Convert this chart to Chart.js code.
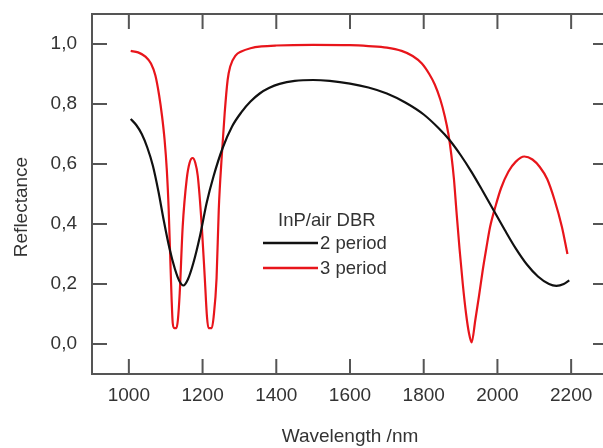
<!DOCTYPE html>
<html>
<head>
<meta charset="utf-8">
<script src="https://cdn.jsdelivr.net/npm/chart.js@4.4.1/dist/chart.umd.min.js"></script>
<style>
  html, body { margin: 0; padding: 0; background: #fff; overflow: hidden; }
  #wrap { position: relative; width: 608px; height: 448px; }
</style>
</head>
<body>
<div id="wrap"><canvas id="chart"></canvas></div>
<script>
// wavelength (nm) / reflectance pairs
const period2Wl = [1005, 1020, 1035, 1050, 1065, 1080, 1095, 1110, 1125, 1137, 1148, 1160, 1175, 1193, 1211, 1230, 1255, 1280, 1305, 1330, 1355, 1380, 1409, 1450, 1500, 1545, 1600, 1650, 1700, 1750, 1800, 1840, 1870, 1900, 1930, 1960, 1990, 2020, 2050, 2080, 2110, 2140, 2160, 2180, 2195];
const period2R  = [0.75, 0.73, 0.70, 0.655, 0.595, 0.51, 0.41, 0.32, 0.25, 0.21, 0.195, 0.215, 0.27, 0.36, 0.47, 0.56, 0.655, 0.725, 0.772, 0.808, 0.835, 0.853, 0.867, 0.877, 0.88, 0.877, 0.868, 0.855, 0.835, 0.805, 0.765, 0.72, 0.68, 0.63, 0.573, 0.51, 0.445, 0.38, 0.318, 0.265, 0.225, 0.2, 0.194, 0.2, 0.212];

const period3Wl = [1005, 1025, 1045, 1060, 1072, 1082, 1090, 1097, 1103, 1108, 1112, 1116, 1119, 1123, 1129, 1133, 1138, 1146, 1157, 1165, 1173, 1180, 1187, 1198, 1206, 1212, 1216, 1225, 1230, 1238, 1244, 1252, 1260, 1268, 1275, 1290, 1305, 1330, 1360, 1400, 1500, 1600, 1650, 1700, 1740, 1770, 1795, 1815, 1830, 1845, 1857, 1867, 1875, 1882, 1889, 1897, 1906, 1915, 1923, 1930, 1940, 1950, 1960, 1970, 1980, 1995, 2010, 2030, 2050, 2073, 2095, 2115, 2135, 2155, 2175, 2190];
const period3R  = [0.977, 0.972, 0.958, 0.935, 0.895, 0.83, 0.76, 0.68, 0.58, 0.45, 0.3, 0.15, 0.07, 0.053, 0.053, 0.08, 0.17, 0.39, 0.55, 0.605, 0.62, 0.605, 0.56, 0.39, 0.22, 0.09, 0.053, 0.053, 0.09, 0.22, 0.45, 0.625, 0.77, 0.88, 0.925, 0.962, 0.975, 0.986, 0.992, 0.995, 0.997, 0.996, 0.993, 0.988, 0.977, 0.96, 0.935, 0.9, 0.865, 0.815, 0.76, 0.7, 0.63, 0.55, 0.44, 0.32, 0.2, 0.1, 0.035, 0.005, 0.08, 0.16, 0.245, 0.32, 0.39, 0.46, 0.52, 0.575, 0.608, 0.625, 0.615, 0.59, 0.55, 0.48, 0.39, 0.3];

const seriesLabels = ['2 period', '3 period'];
const legendTitle = 'InP/air DBR';
const xTicks = [1000, 1200, 1400, 1600, 1800, 2000, 2200];
const yTicks = [0, 0.2, 0.4, 0.6, 0.8, 1.0];

const FONT = "'Liberation Sans', Arial, sans-serif";
const TEXT = '#333';
const FRAME = '#555';

function pairs(xs, ys) {
  return xs.map((x, i) => ({ x: x, y: ys[i] }));
}

// frame, inward ticks, legend and y title
const decor = {
  id: 'decor',
  beforeDatasetsDraw(chart) {
    const { ctx, chartArea: a, scales } = chart;
    ctx.save();
    ctx.strokeStyle = FRAME;
    ctx.lineWidth = 2;
    ctx.strokeRect(a.left, a.top, a.right - a.left, a.bottom - a.top);
    ctx.beginPath();
    scales.x.ticks.forEach(t => {
      const px = scales.x.getPixelForValue(t.value);
      ctx.moveTo(px, a.top); ctx.lineTo(px, a.top + 15);
      ctx.moveTo(px, a.bottom); ctx.lineTo(px, a.bottom - 15);
    });
    scales.y.ticks.forEach(t => {
      const py = scales.y.getPixelForValue(t.value);
      ctx.moveTo(a.left, py); ctx.lineTo(a.left + 15, py);
      ctx.moveTo(a.right, py); ctx.lineTo(a.right - 15, py);
    });
    ctx.stroke();
    ctx.restore();
  },
  afterDraw(chart) {
    const { ctx } = chart;
    ctx.save();
    ctx.fillStyle = TEXT;
    ctx.font = '18.5px ' + FONT;
    ctx.textBaseline = 'middle';
    ctx.textAlign = 'left';
    ctx.fillText(legendTitle, 278, 221);
    chart.data.datasets.forEach((ds, i) => {
      const y = 243 + i * 25;
      ctx.strokeStyle = ds.borderColor;
      ctx.lineWidth = 2.5;
      ctx.beginPath();
      ctx.moveTo(263, y); ctx.lineTo(318, y);
      ctx.stroke();
      ctx.fillText(ds.label, 320, y + 1);
    });
    // rotated y title
    ctx.font = '19px ' + FONT;
    ctx.translate(22, 207);
    ctx.rotate(-Math.PI / 2);
    ctx.textAlign = 'center';
    ctx.fillText('Reflectance', 0, 0);
    ctx.restore();
  }
};

new Chart(document.getElementById('chart'), {
  type: 'line',
  data: {
    datasets: [
      {
        label: seriesLabels[0],
        data: pairs(period2Wl, period2R),
        borderColor: '#111111',
        borderWidth: 2.2,
        pointRadius: 0,
        cubicInterpolationMode: 'monotone',
        fill: false
      },
      {
        label: seriesLabels[1],
        data: pairs(period3Wl, period3R),
        borderColor: '#e8151b',
        borderWidth: 2.2,
        pointRadius: 0,
        cubicInterpolationMode: 'monotone',
        fill: false
      }
    ]
  },
  plugins: [decor],
  options: {
    responsive: true,
    maintainAspectRatio: false,
    animation: false,
    layout: { padding: { top: 14, left: 0, right: 0, bottom: 0 } },
    plugins: {
      legend: { display: false },
      tooltip: { enabled: false }
    },
    scales: {
      x: {
        type: 'linear',
        min: 900,
        max: 2300,
        afterBuildTicks: s => { s.ticks = xTicks.map(v => ({ value: v })); },
        afterFit: s => { s.height = 74; s.paddingLeft = 0; s.paddingRight = 0; },
        grid: { display: false, drawTicks: false },
        border: { display: false },
        ticks: {
          padding: 10,
          color: TEXT,
          font: { family: FONT, size: 19 },
          maxRotation: 0,
          callback: v => String(v)
        },
        title: {
          display: true,
          text: 'Wavelength /nm',
          color: TEXT,
          font: { family: FONT, size: 19 },
          padding: { top: 0, bottom: 0 }
        }
      },
      y: {
        min: -0.1,
        max: 1.1,
        afterBuildTicks: s => { s.ticks = yTicks.map(v => ({ value: v })); },
        afterFit: s => { s.width = 92; s.paddingTop = 0; s.paddingBottom = 0; },
        grid: { display: false, drawTicks: false },
        border: { display: false },
        ticks: {
          padding: 15,
          color: TEXT,
          font: { family: FONT, size: 19 },
          callback: v => v.toFixed(1).replace('.', ',')
        }
      }
    }
  }
});
</script>
</body>
</html>
